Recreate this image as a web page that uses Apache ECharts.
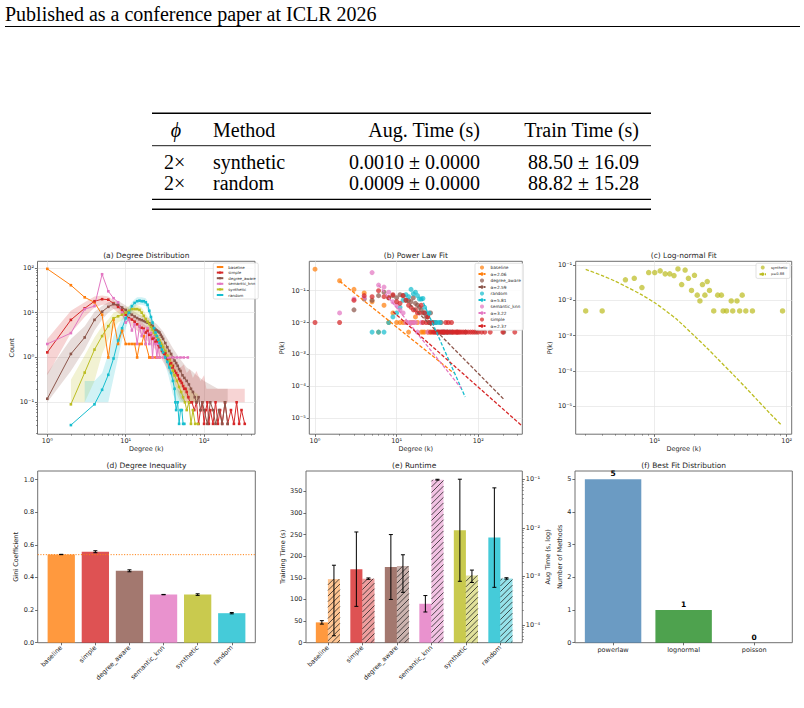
<!DOCTYPE html>
<html>
<head>
<meta charset="utf-8">
<title>ICLR 2026 figure</title>
<script src="https://cdn.jsdelivr.net/npm/echarts@6.0.0/dist/echarts.min.js"></script>
<style>
html,body{margin:0;padding:0;background:#ffffff;}
#chart{width:804px;height:708px;}
</style>
</head>
<body>
<div id="chart"></div>
<script>
// ===================== DATA =====================
const HEADER_TEXT = 'Published as a conference paper at ICLR 2026';
const TABLE_HEAD = ['ϕ', 'Method', 'Aug. Time (s)', 'Train Time (s)'];
const TABLE_ROW_1 = ['2×', 'synthetic', '0.0010 ± 0.0000', '88.50 ± 16.09'];
const TABLE_ROW_2 = ['2×', 'random', '0.0009 ± 0.0000', '88.82 ± 15.28'];

const TITLES = ['(a) Degree Distribution', '(b) Power Law Fit', '(c) Log-normal Fit',
                '(d) Degree Inequality', '(e) Runtime', '(f) Best Fit Distribution'];
const METHODS = ['baseline', 'simple', 'degree_aware', 'semantic_knn', 'synthetic', 'random'];

// (a) Degree distribution: degree k, mean count, band [k, low, high]
const A_BASELINE_K = [1,2,3,4,5,6,7,8,9,10,11,12,13,14,15,16,17,18,20,21,22,24,25,27];
const A_BASELINE_V = [95,41,22,17,9,1,7,2,4,2,2,2,2,1,2,2,3,2,1,1,1,1,1,1];

const A_SIMPLE_K = [1,2,3,4,5,6,7,8,9,10,11,12,13,14,15,16,17,18,19,20,21,22,23,24,25,26,27,28,29,30,31,32,33,34,35,36,37,38,39,40,42,44,46,48,50,52,54,56,58,60,63,66,70,75,80,85,90,95,100,105,110,115,120,130,140,150,160,170,185,200,220,240,260,280,300,330];
const A_SIMPLE_V = [1.3,6.9,12.5,18,20,19.5,16,13.5,11.5,9,7.5,7,6.3,5.5,5,4.6,4.4,3.6,4,3.2,3.4,2.6,2.8,2.2,2.4,1.9,1.7,1.8,1.4,1.3,1.2,1.25,1,0.95,0.85,0.9,0.7,0.75,0.6,0.65,0.5,0.45,0.4,0.33,0.3,0.27,0.23,0.2,0.2,0.17,0.13,0.1,0.1,0.067,0.1,0.033,0.067,0.1,0.033,0.067,0.1,0.033,0.067,0.033,0.1,0.033,0.067,0.033,0.1,0.033,0.067,0.033,0.1,0.033,0.067,0.033];
const A_SIMPLE_BAND = [[1,0.4,2.6],[2,3.5,11],[3,8,17],[4,13,23],[5,15,24],[6,15,23],[7,12,19],[8,10,16],[10,7,12],[12,5,9],[15,3.6,6.8],[18,2.6,5.2],[20,2.1,4.6],[25,1.4,3.4],[30,0.8,2.1],[35,0.5,1.5],[40,0.35,1.1],[45,0.2,0.8],[50,0.12,0.6],[55,0.1,0.7],[60,0.1,0.45],[66,0.1,0.55],[72,0.1,0.35],[80,0.1,0.5],[90,0.1,0.3],[100,0.1,0.4],[107,0.1,0.2],[330,0.1,0.2]];

const A_DEGREE_K = [1,2,3,4,5,6,7,8,9,10,11,12,13,14,15,16,17,18,19,20,21,22,23,24,25,26,27,28,29,30,32,34,36,38,40,42,44,46,48,50,53,56,60,64,68,72,76,80,85,90,95,100,110,120,130,140,155,170,185,200];
const A_DEGREE_V = [0.12,1.2,2.8,6.9,10.5,13.5,15.5,15,13,11.5,10,9,8.2,7.6,7.1,6.8,6.5,6.2,6,5.8,5.3,5,4.5,4.2,4,3.8,3.6,3.2,2.9,2.6,2.1,1.7,1.4,1.2,1.0,0.85,0.75,0.65,0.55,0.5,0.4,0.35,0.3,0.25,0.2,0.17,0.13,0.1,0.13,0.067,0.1,0.067,0.033,0.1,0.067,0.033,0.067,0.033,0.1,0.033];
const A_DEGREE_BAND = [[1,0.1,0.45],[2,0.5,2.6],[3,1.5,5],[4,4,10.5],[5,7,14],[6,10,17],[7,12,19],[8,12,18.5],[10,9,14.5],[12,7,11.5],[15,5.5,9],[20,4,7.5],[25,2.7,5.5],[30,1.7,3.8],[35,1.0,2.4],[40,0.6,1.6],[50,0.25,0.9],[60,0.12,0.6],[70,0.1,0.5],[80,0.1,0.4],[100,0.1,0.3],[150,0.1,0.2],[200,0.1,0.2]];

const A_SEMANTIC_K = [1,2,3,4,5,6,7,8,9,10,11,12,13,14,15,16,17,18,19,20,21,22,23,24,25,26,27,30,35,40,45,50,55,62];
const A_SEMANTIC_V = [2.0,3.5,12,14,72,30,21,17,10,6,7,4,5.5,2,5,3,4,2,4.5,2,3.5,1,3,2,1,2,1,1,1,1,1,1,1,1];

const A_SYNTH_K = [2,3,4,5,6,7,8,9,10,11,12,13,14,15,16,17,18,19,20,21,22,23,24,25,26,27,28,29,30,32,34,36,38,40,42,45,48,51,54,57,60,64,68,72,77,84];
const A_SYNTH_V = [0.09,0.46,1.5,3,5,7.5,8.3,9,10,11,12,12,12,11.5,10,8.5,7.2,6.3,5.6,4.8,4.2,3.6,3.2,2.9,2.6,2.4,2.1,1.9,1.7,1.4,1.1,0.85,0.65,0.5,0.4,0.3,0.22,0.17,0.13,0.1,0.067,0.1,0.033,0.067,0.033,0.033];
const A_SYNTH_BAND = [[2,0.1,0.32],[3,0.1,1.1],[4,0.3,2.8],[5,1.2,5],[6,2.5,7],[7,4.5,10],[8,6,11],[10,7.5,13],[12,9,15],[14,9,15],[16,7.5,13],[18,5.5,9.5],[20,4,7.5],[25,2,4],[30,1.1,2.5],[35,0.55,1.5],[40,0.3,0.9],[45,0.15,0.55],[50,0.1,0.35],[60,0.1,0.22],[84,0.1,0.15]];

const A_RANDOM_K = [2,4,5,6,7,8,9,10,11,12,13,14,15,16,17,18,19,20,21,22,23,24,25,26,27,28,29,30,32,34,36,38,40,42,43,44,46,48,50,52,54,56];
const A_RANDOM_V = [0.031,0.09,0.19,0.41,0.95,2.4,4.5,7.5,10,14,16.5,18,18.5,18,18,17,15,11,8,6,4.5,3.6,3,2.5,2.1,1.8,1.5,1.3,1.0,0.8,0.6,0.45,0.3,0.2,0.1,0.067,0.1,0.033,0.067,0.067,0.033,0.033];
const A_RANDOM_BAND = [[3,0.1,0.3],[4,0.1,0.3],[5,0.1,0.45],[6,0.1,1.2],[7,0.35,3],[8,1,5],[9,2.5,7.5],[10,4.5,10.5],[11,7,13.5],[12,10.5,17],[13,13,20],[14,15,22],[16,15,22],[18,14,21],[19,11,18],[20,8,14],[22,4.5,7.5],[25,2.2,3.8],[28,1.4,2.3],[30,1.0,1.8],[35,0.4,1.0],[40,0.15,0.5],[45,0.1,0.2],[56,0.1,0.15]];

// (b) Power-law fit: [k, P(k)] points and fitted dashed lines
const B_BASELINE = [[1,0.475],[2,0.205],[3,0.11],[4,0.085],[5,0.045],[6,0.005],[7,0.035],[8,0.01],[9,0.02],[10,0.01],[11,0.01],[12,0.01],[13,0.01],[14,0.005],[15,0.01],[16,0.01],[17,0.015],[18,0.01],[20,0.005],[21,0.005],[22,0.005],[24,0.005],[25,0.005],[27,0.005]];
const B_DEGREE = [[3,0.025],[4,0.055],[5,0.05],[6,0.07],[7,0.09],[8,0.06],[9,0.07],[10,0.06],[11,0.075],[12,0.07],[13,0.05],[14,0.05],[15,0.045],[16,0.06],[17,0.04],[18,0.035],[19,0.03],[20,0.025],[21,0.02],[22,0.02],[23,0.015],[24,0.015],[25,0.01],[26,0.02],[28,0.01],[30,0.01],[32,0.005],[35,0.01],[38,0.005],[42,0.005],[48,0.005],[55,0.005],[70,0.005],[95,0.005],[205,0.005]];
const B_RANDOM = [[5,0.005],[6,0.005],[7,0.005],[8,0.01],[9,0.015],[10,0.02],[11,0.03],[12,0.05],[13,0.075],[14,0.065],[15,0.11],[16,0.08],[17,0.09],[18,0.07],[19,0.055],[20,0.055],[21,0.057],[22,0.03],[23,0.02],[25,0.02],[26,0.01],[28,0.01],[30,0.01],[32,0.01],[34,0.01],[36,0.005],[40,0.005],[45,0.005]];
const B_SEMANTIC = [[2,0.02],[3,0.055],[4,0.06],[5,0.37],[6,0.15],[7,0.13],[8,0.09],[9,0.045],[10,0.035],[11,0.025],[12,0.02],[13,0.01],[14,0.01],[15,0.01],[16,0.01],[17,0.01],[18,0.005],[20,0.01],[24,0.005]];
const B_SIMPLE = [[1,0.01],[2,0.01],[3,0.05],[4,0.07],[5,0.065],[6,0.1],[7,0.065],[8,0.06],[9,0.075],[10,0.045],[11,0.04],[12,0.07],[13,0.05],[14,0.035],[15,0.03],[16,0.025],[17,0.025],[18,0.02],[19,0.02],[20,0.035],[21,0.01],[22,0.02],[23,0.01],[24,0.015],[25,0.01],[26,0.005],[27,0.01],[28,0.005],[29,0.005],[30,0.005],[31,0.005],[32,0.005],[33,0.005],[34,0.005],[35,0.005],[36,0.005],[37,0.005],[38,0.005],[39,0.005],[40,0.01],[41,0.005],[42,0.005],[43,0.01],[44,0.005],[46,0.005],[47,0.01],[48,0.005],[50,0.005],[52,0.005],[54,0.005],[56,0.005],[58,0.005],[60,0.005],[63,0.005],[66,0.005],[70,0.005],[75,0.005],[80,0.005],[85,0.005],[90,0.005],[100,0.005],[110,0.005],[120,0.005],[140,0.005],[200,0.005],[280,0.005]];
const B_FIT_BASELINE = [[2,0.2],[50,0.00026]];
const B_FIT_DEGREE = [[13,0.05],[207,0.000038]];
const B_FIT_RANDOM = [[20,0.06],[69,0.000046]];
const B_FIT_SEMANTIC = [[6,0.15],[62,0.000085]];
const B_FIT_SIMPLE = [[9,0.022],[345,0.0000056]];
const B_FIT_LABELS = ['α=2.06', 'α=2.59', 'α=5.81', 'α=3.22', 'α=2.37'];

// (c) Log-normal fit
const C_SYNTH = [[3,0.005],[4,0.005],[6,0.038],[7,0.042],[8,0.023],[9,0.061],[10,0.061],[11,0.068],[12,0.056],[13,0.056],[14,0.05],[15,0.077],[16,0.028],[17,0.072],[18,0.042],[19,0.019],[20,0.051],[21,0.014],[22,0.0096],[23,0.028],[24,0.014],[25,0.034],[26,0.019],[28,0.005],[30,0.014],[32,0.014],[33,0.005],[35,0.005],[38,0.0096],[39,0.005],[42,0.0096],[44,0.005],[46,0.014],[49,0.005],[55,0.005],[93,0.005]];
const C_FIT_K = [3,4,5,6,8,10,12,15,20,25,30,40,50,60,75,90];
const C_FIT_P = [0.075,0.05,0.035,0.025,0.0142,0.0085,0.0052,0.0027,0.00098,0.00044,0.00022,0.000074,0.000031,0.000015,0.0000062,0.0000031];
const C_FIT_LABEL = 'μ=0.88';

// (d) Degree inequality (Gini)
const D_GINI = [0.541, 0.558, 0.441, 0.295, 0.295, 0.181];
const D_GINI_ERR = [0.001, 0.006, 0.006, 0.001, 0.005, 0.004];
const D_REFERENCE = 0.54;

// (e) Runtime
const E_TRAIN = [47, 170, 175, 90, 260, 243];
const E_TRAIN_ERR = [4, 86, 75, 19, 118, 115];
const E_AUG = [0.00088, 0.0009, 0.00163, 0.098, 0.00105, 0.00091];
const E_AUG_ERR = [0.00082, 0.00003, 0.00116, 0.002, 0.0003, 0.00003];

// (f) Best fit distribution
const F_CATS = ['powerlaw', 'lognormal', 'poisson'];
const F_COUNTS = [5, 1, 0];

// tick values
const LOG_TICKS_X = [1, 10, 100];
const LOG_TICKS_XC = [10, 100];
const LOG_TICKS_YA = [0.1, 1, 10, 100];
const LOG_TICKS_YB = [0.00001, 0.0001, 0.001, 0.01, 0.1];
const LOG_TICKS_YE = [0.0001, 0.001, 0.01, 0.1];
const MINOR_XA = [2,3,4,5,6,7,8,9,20,30,40,50,60,70,80,90,200,300,400];
const MINOR_XC = [3,4,5,6,7,8,9,20,30,40,50,60,70,80,90];
const MINOR_YA = [0.02,0.03,0.04,0.05,0.06,0.07,0.08,0.09,0.2,0.3,0.4,0.5,0.6,0.7,0.8,0.9,2,3,4,5,6,7,8,9,20,30,40,50,60,70,80,90];
const MINOR_YE = [0.00005,0.00006,0.00007,0.00008,0.00009,0.0002,0.0003,0.0004,0.0005,0.0006,0.0007,0.0008,0.0009,0.002,0.003,0.004,0.005,0.006,0.007,0.008,0.009,0.02,0.03,0.04,0.05,0.06,0.07,0.08,0.09];
const LIN_TICKS_D = [0, 0.2, 0.4, 0.6, 0.8, 1.0];
const LIN_TICKS_E = [0, 50, 100, 150, 200, 250, 300, 350];
const LIN_TICKS_F = [0, 1, 2, 3, 4, 5];

// ===================== STYLE =====================
const FONT = 'DejaVu Sans';
const SERIF = 'Liberation Serif';
const TICK_FS = 6.5, NAME_FS = 6.5, TITLE_FS = 7.5;
const SPINE = '#707070', TICK_C = '#4a4a4a', TXT = '#262626', GRIDC = '#e4e4e4';
const COLORS = {baseline:'#ff7f0e', simple:'#d62728', degree_aware:'#8c564b', semantic_knn:'#e377c2', synthetic:'#bcbd22', random:'#17becf'};
function rgba(hex, a) { const n = parseInt(hex.slice(1), 16); return 'rgba(' + ((n >> 16) & 255) + ',' + ((n >> 8) & 255) + ',' + (n & 255) + ',' + a + ')'; }
const SUP = {'-':'⁻','0':'⁰','1':'¹','2':'²','3':'³','4':'⁴','5':'⁵','6':'⁶','7':'⁷','8':'⁸','9':'⁹'};
function powLabel(v) { const l = Math.log10(v), e = Math.round(l); if (Math.abs(l - e) > 1e-3) return ''; return '10' + String(e).split('').map(c => SUP[c]).join(''); }

// ===================== GRIDS =====================
const ROW1_TOP = 261.3, ROW1_H = 172.9, ROW2_TOP = 471, ROW2_H = 171.7;
const grid = [
  {left:37.5, top:ROW1_TOP, width:217.5, height:ROW1_H, show:true},   // 0 a
  {left:309.3, top:ROW1_TOP, width:213, height:ROW1_H, show:true},    // 1 b
  {left:575.7, top:ROW1_TOP, width:216, height:ROW1_H, show:true},    // 2 c
  {left:37.7, top:ROW2_TOP, width:217.6, height:ROW2_H, show:true},   // 3 d frame
  {left:44.2, top:ROW2_TOP, width:204.6, height:ROW2_H, show:false},  // 4 d bars
  {left:306, top:ROW2_TOP, width:216.3, height:ROW2_H, show:true},    // 5 e frame
  {left:310.66, top:ROW2_TOP, width:207, height:ROW2_H, show:false},  // 6 e bars
  {left:575, top:ROW2_TOP, width:217.3, height:ROW2_H, show:true},    // 7 f frame
  {left:577.8, top:ROW2_TOP, width:211.65, height:ROW2_H, show:false} // 8 f bars
].map(g => Object.assign(g, {containLabel:false, outerBoundsMode:'none', borderColor:SPINE, borderWidth:1, backgroundColor:'rgba(0,0,0,0)'}));

// ===================== AXES =====================
const LBL = {fontFamily:FONT, fontSize:TICK_FS, color:TXT};
const NAME = {fontFamily:FONT, fontSize:NAME_FS, color:TXT};
function tick(vals) { return {show:true, length:2.6, lineStyle:{color:TICK_C, width:0.8}, customValues:vals}; }
function logAxis(gi, min, max, vals, name, gap, pos, grid) {
  return {type:'log', logBase:10, gridIndex:gi, min, max, position:pos,
    axisLine:{show:false}, axisTick:tick(vals),
    axisLabel:{...LBL, margin:pos === 'bottom' ? 3 : 3.5, formatter:powLabel, customValues:vals, showMinLabel:true, showMaxLabel:true},
    splitLine:{show:!!grid, lineStyle:{color:GRIDC, width:0.7}},
    minorTick:{show:false}, minorSplitLine:{show:false},
    name, nameLocation:'middle', nameGap:gap, nameTextStyle:NAME};
}
function minorAxis(gi, min, max, vals, pos) {
  return {type:'log', logBase:10, gridIndex:gi, min, max, position:pos, axisLine:{show:false},
    axisLabel:{show:false}, splitLine:{show:false},
    axisTick:{show:true, length:1.5, lineStyle:{color:TICK_C, width:0.6}, customValues:vals}};
}
function linAxis(gi, min, max, vals, name, gap, pos, fmt) {
  return {type:'value', gridIndex:gi, min, max, position:pos, axisLine:{show:false}, axisTick:tick(vals),
    axisLabel:{...LBL, margin:3.5, customValues:vals, formatter:fmt}, splitLine:{show:false},
    name, nameLocation:'middle', nameGap:gap, nameTextStyle:NAME};
}
function hiddenAxis(type, gi, min, max) { return {type, gridIndex:gi, min, max, show:false, splitLine:{show:false}}; }
function catAxis(gi, cats, rotate) {
  return {type:'category', gridIndex:gi, data:cats, boundaryGap:true, axisLine:{show:false},
    axisTick:{show:true, alignWithLabel:true, length:2.6, lineStyle:{color:TICK_C, width:0.8}},
    axisLabel:{...LBL, interval:0, rotate:rotate, margin:4}, splitLine:{show:false}};
}

const A_X = [0.75, 446], A_Y = [0.0194, 140];
const B_X = [0.851, 346], B_Y = [0.0000031, 0.839];
const C_X = [2.52, 109.1], C_Y = [0.00000163, 0.127];
const D_Y = [0, 1.053], E_YL = [0, 397], E_YR = [0.0000432, 0.148], F_Y = [0, 5.25];

const xAxis = [
  logAxis(0, A_X[0], A_X[1], LOG_TICKS_X, 'Degree (k)', 11.5, 'bottom', true),   // 0
  logAxis(1, B_X[0], B_X[1], LOG_TICKS_X, 'Degree (k)', 11.5, 'bottom', true),   // 1
  logAxis(2, C_X[0], C_X[1], LOG_TICKS_XC, 'Degree (k)', 11.5, 'bottom', true),  // 2
  hiddenAxis('value', 3, 0, 1),                                                   // 3
  catAxis(4, METHODS, 45),                                                        // 4
  hiddenAxis('value', 5, 0, 1),                                                   // 5
  catAxis(6, METHODS, 45),                                                        // 6
  hiddenAxis('value', 7, 0, 1),                                                   // 7
  catAxis(8, F_CATS, 0),                                                          // 8
  minorAxis(0, A_X[0], A_X[1], MINOR_XA, 'bottom'),                               // 9
  minorAxis(1, B_X[0], B_X[1], MINOR_XA, 'bottom'),                               // 10
  minorAxis(2, C_X[0], C_X[1], MINOR_XC, 'bottom')                                // 11
];
const yAxis = [
  logAxis(0, A_Y[0], A_Y[1], LOG_TICKS_YA, 'Count', 22.5, 'left', true),        // 0
  logAxis(1, B_Y[0], B_Y[1], LOG_TICKS_YB, 'P(k)', 23.5, 'left', true),          // 1
  logAxis(2, C_Y[0], C_Y[1], LOG_TICKS_YB, 'P(k)', 22.5, 'left', true),          // 2
  linAxis(3, D_Y[0], D_Y[1], LIN_TICKS_D, 'Gini Coefficient', 16.7, 'left', v => v.toFixed(1)), // 3
  hiddenAxis('value', 4, D_Y[0], D_Y[1]),                                         // 4
  linAxis(5, E_YL[0], E_YL[1], LIN_TICKS_E, 'Training Time (s)', 18.7, 'left', v => String(Math.round(v))), // 5
  logAxis(5, E_YR[0], E_YR[1], LOG_TICKS_YE, 'Aug Time (s, log)', 21.4, 'right', false), // 6
  hiddenAxis('value', 6, E_YL[0], E_YL[1]),                                       // 7
  hiddenAxis('log', 6, E_YR[0], E_YR[1]),                                         // 8
  linAxis(7, F_Y[0], F_Y[1], LIN_TICKS_F, 'Number of Methods', 10, 'left', v => String(Math.round(v))), // 9
  hiddenAxis('value', 8, F_Y[0], F_Y[1]),                                         // 10
  minorAxis(0, A_Y[0], A_Y[1], MINOR_YA, 'left'),                                 // 11
  minorAxis(5, E_YR[0], E_YR[1], MINOR_YE, 'right')                               // 12
];

// ===================== SERIES =====================
const series = [];
function bandSeries(rows, color, xi, yi) {
  return {type:'custom', name:'band', xAxisIndex:xi, yAxisIndex:yi, silent:true, clip:true, z:2,
    data:[[rows[0][0], rows[0][2]]],
    renderItem: function (params, api) {
      const up = rows.map(r => api.coord([r[0], r[2]]));
      const dn = rows.slice().reverse().map(r => api.coord([r[0], r[1]]));
      return {type:'polygon', shape:{points:up.concat(dn)}, style:{fill:color}};
    }};
}
// (a)
[
  ['baseline', A_BASELINE_K, A_BASELINE_V, null],
  ['simple', A_SIMPLE_K, A_SIMPLE_V, A_SIMPLE_BAND],
  ['degree_aware', A_DEGREE_K, A_DEGREE_V, A_DEGREE_BAND],
  ['semantic_knn', A_SEMANTIC_K, A_SEMANTIC_V, null],
  ['synthetic', A_SYNTH_K, A_SYNTH_V, A_SYNTH_BAND],
  ['random', A_RANDOM_K, A_RANDOM_V, A_RANDOM_BAND]
].forEach(([m, K, V, B]) => {
  series.push({type:'line', name:'a|' + m, xAxisIndex:0, yAxisIndex:0, data:K.map((k, i) => [k, V[i]]),
    symbol:'rect', symbolSize:2.6, lineStyle:{color:COLORS[m], width:1}, itemStyle:{color:COLORS[m]}, z:2, clip:true});
  if (B) series.push(bandSeries(B, rgba(COLORS[m], 0.2), 0, 0));
});
// (b)
[
  ['baseline', B_BASELINE, B_FIT_BASELINE, 0],
  ['degree_aware', B_DEGREE, B_FIT_DEGREE, 1],
  ['random', B_RANDOM, B_FIT_RANDOM, 2],
  ['semantic_knn', B_SEMANTIC, B_FIT_SEMANTIC, 3],
  ['simple', B_SIMPLE, B_FIT_SIMPLE, 4]
].forEach(([m, P, F, li]) => {
  series.push({type:'scatter', name:'b|' + m, xAxisIndex:1, yAxisIndex:1, data:P, symbolSize:5,
    itemStyle:{color:COLORS[m], opacity:0.72}, z:2});
  series.push({type:'line', name:'b|' + B_FIT_LABELS[li], xAxisIndex:1, yAxisIndex:1, data:F, symbol:'none',
    lineStyle:{color:COLORS[m], width:1.3, type:[3.6, 1.8]}, itemStyle:{color:COLORS[m]}, z:3, clip:true});
});
// (c)
series.push({type:'scatter', name:'c|synthetic', xAxisIndex:2, yAxisIndex:2, data:C_SYNTH, symbolSize:5.5,
  itemStyle:{color:COLORS.synthetic, opacity:0.72}, z:2});
series.push({type:'line', name:'c|' + C_FIT_LABEL, xAxisIndex:2, yAxisIndex:2, data:C_FIT_K.map((k, i) => [k, C_FIT_P[i]]),
  symbol:'none', smooth:0.3, lineStyle:{color:COLORS.synthetic, width:1.3, type:[3.6, 1.8]}, itemStyle:{color:COLORS.synthetic}, z:3, clip:true});

// error bars helper
function errSeries(xi, yi, mean, err, offset, cap) {
  return {type:'custom', xAxisIndex:xi, yAxisIndex:yi, silent:true, z:6,
    data:mean.map((v, i) => [i, v, err[i]]),
    renderItem: function (params, api) {
      const i = api.value(0), m = api.value(1), e = api.value(2);
      const u = api.coord([1, m])[0] - api.coord([0, m])[0];
      const x = api.coord([i, m])[0] + offset * u;
      const yt = api.coord([i, m + e])[1], yb = api.coord([i, m - e])[1];
      const st = {stroke:'#000', lineWidth:1};
      return {type:'group', children:[
        {type:'line', shape:{x1:x, y1:yt, x2:x, y2:yb}, style:st},
        {type:'line', shape:{x1:x - cap, y1:yt, x2:x + cap, y2:yt}, style:st},
        {type:'line', shape:{x1:x - cap, y1:yb, x2:x + cap, y2:yb}, style:st}]};
    }};
}
// (d)
series.push({type:'bar', xAxisIndex:4, yAxisIndex:4, barWidth:'80%', z:2,
  data:D_GINI.map((v, i) => ({value:v, itemStyle:{color:rgba(COLORS[METHODS[i]], 0.8)}}))});
series.push(errSeries(4, 4, D_GINI, D_GINI_ERR, 0, 2));
series.push({type:'line', xAxisIndex:3, yAxisIndex:3, data:[[0, D_REFERENCE], [1, D_REFERENCE]], symbol:'none', z:4,
  lineStyle:{color:COLORS.baseline, width:1, type:[1.1, 1.6]}});
// (e)
function hatch(x0, y0, x1, y1, step) {
  const out = [];
  for (let c = Math.ceil((x0 + y0) / step) * step; c < x1 + y1; c += step) {
    const xa = Math.max(x0, c - y1), xb = Math.min(x1, c - y0);
    if (xb - xa > 0.3) out.push({type:'line', shape:{x1:xa, y1:c - xa, x2:xb, y2:c - xb}, style:{stroke:'#1c1c1c', lineWidth:0.75}});
  }
  return out;
}
series.push({type:'custom', xAxisIndex:6, yAxisIndex:7, z:3, data:E_TRAIN.map((v, i) => [i, v]),
  renderItem: function (params, api) {
    const i = api.value(0), v = api.value(1);
    const p = api.coord([i, v]), p0 = api.coord([i, 0]);
    const u = api.coord([1, v])[0] - api.coord([0, v])[0];
    return {type:'rect', shape:{x:p[0] - 0.35 * u, y:p[1], width:0.35 * u, height:p0[1] - p[1]},
      style:{fill:rgba(COLORS[METHODS[i]], 0.8)}};
  }});
series.push({type:'custom', xAxisIndex:6, yAxisIndex:8, z:3, data:E_AUG.map((v, i) => [i, v]),
  renderItem: function (params, api) {
    const i = api.value(0), v = api.value(1);
    const p = api.coord([i, v]);
    const u = api.coord([1, v])[0] - api.coord([0, v])[0];
    const bottom = params.coordSys.y + params.coordSys.height;
    const x0 = p[0], x1 = p[0] + 0.35 * u;
    return {type:'group', children:[
      {type:'rect', shape:{x:x0, y:p[1], width:x1 - x0, height:bottom - p[1]}, style:{fill:rgba(COLORS[METHODS[i]], 0.45)}}
    ].concat(hatch(x0, p[1], x1, bottom, 5.6))};
  }});
series.push(errSeries(6, 7, E_TRAIN, E_TRAIN_ERR, -0.175, 2));
series.push(errSeries(6, 8, E_AUG, E_AUG_ERR, 0.175, 2));
// (f)
const F_COLORS = ['rgba(70,130,180,0.8)', 'rgba(34,139,34,0.8)', 'rgba(220,20,60,0.8)'];
series.push({type:'bar', xAxisIndex:8, yAxisIndex:10, barWidth:'80%', z:2,
  data:F_COUNTS.map((v, i) => ({value:v, itemStyle:{color:F_COLORS[i]}})),
  label:{show:true, position:'top', distance:1.5, fontFamily:FONT, fontWeight:'bold', fontSize:7.5, color:'#000', formatter:'{c}'}});

// ===================== LEGENDS =====================
function legendCfg(names, left, top, fs, lh, gap, iw, ih) {
  return {data:names, left, top, orient:'vertical', selectedMode:false, itemWidth:iw, itemHeight:ih, itemGap:gap,
    padding:[2, 2.5, 2, 2.5], backgroundColor:'rgba(255,255,255,0.85)', borderColor:'#cccccc', borderWidth:0.6, borderRadius:1.5,
    textStyle:{fontFamily:FONT, fontSize:fs, lineHeight:lh, color:TXT},
    formatter: n => n.split('|')[1]};
}
const legend = [
  legendCfg(METHODS.map(m => 'a|' + m), 213.3, 263, 3.9, 4, 1.6, 6.5, 2.6),
  legendCfg(['b|baseline', 'b|' + B_FIT_LABELS[0], 'b|degree_aware', 'b|' + B_FIT_LABELS[1], 'b|random', 'b|' + B_FIT_LABELS[2],
             'b|semantic_knn', 'b|' + B_FIT_LABELS[3], 'b|simple', 'b|' + B_FIT_LABELS[4]], 475, 263.3, 4.3, 4.5, 2, 7, 4.2),
  legendCfg(['c|synthetic', 'c|' + C_FIT_LABEL], 756, 263.3, 3.6, 4.5, 2.1, 6.5, 4)
];

// ===================== TEXT / TABLE =====================
const graphic = [];
function gtext(text, x, y, o) {
  graphic.push({type:'text', x, y, silent:true, style:Object.assign({text, fill:'#000', fontFamily:SERIF, fontSize:20,
    textAlign:'left', align:'left', textVerticalAlign:'middle', verticalAlign:'middle'}, o || {})});
}
function gline(x1, y1, x2, y2, w) { graphic.push({type:'line', silent:true, shape:{x1, y1, x2, y2}, style:{stroke:'#000', lineWidth:w}}); }
gtext(HEADER_TEXT, 5, 13.5);
gline(5, 26.5, 800, 26.5, 1);
gline(152, 113.3, 651, 113.3, 1.5);
gline(152, 145.7, 651, 145.7, 0.9);
gline(152, 199.3, 651, 199.3, 1.2);
gline(152, 209.3, 651, 209.3, 1.5);
const R = {textAlign:'right', align:'right'}, C = {textAlign:'center', align:'center'};
gtext(TABLE_HEAD[0], 176, 129.5, Object.assign({fontStyle:'italic'}, C));
gtext(TABLE_HEAD[1], 213, 129.5);
gtext(TABLE_HEAD[2], 480, 129.5, R);
gtext(TABLE_HEAD[3], 639, 129.5, R);
[[TABLE_ROW_1, 161.7], [TABLE_ROW_2, 182.7]].forEach(([row, y]) => {
  gtext(row[0], 164, y);
  gtext(row[1], 213, y);
  gtext(row[2], 480, y, R);
  gtext(row[3], 639, y, R);
});
const TITLE_POS = [[146.3, 255.7], [415.8, 255.7], [683.7, 255.7], [146.5, 465.7], [414.2, 465.7], [683.7, 465.7]];
TITLES.forEach((t, i) => gtext(t, TITLE_POS[i][0], TITLE_POS[i][1], Object.assign({fontFamily:FONT, fontSize:TITLE_FS, fill:TXT}, C)));

// ===================== RENDER =====================
const chart = echarts.init(document.getElementById('chart'), null, {renderer:'svg', width:804, height:708});
chart.setOption({animation:false, backgroundColor:'#ffffff', textStyle:{fontFamily:FONT},
  grid, xAxis, yAxis, series, legend, graphic, tooltip:{show:false}});
</script>
</body>
</html>
